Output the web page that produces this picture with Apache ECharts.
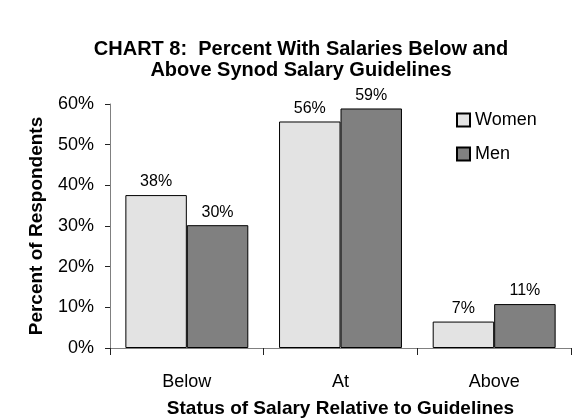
<!DOCTYPE html>
<html>
<head>
<meta charset="utf-8">
<script src="https://cdn.jsdelivr.net/npm/echarts@6/dist/echarts.min.js"></script>
<style>
  html, body { margin: 0; padding: 0; background: #fff; }
  #chart { width: 579px; height: 419px; }
</style>
</head>
<body>
<div id="chart"></div>
<script>
// values (percent)
var categories = ['Below', 'At', 'Above'];
var women = [37.6, 55.7, 6.5];
var men = [30.2, 58.9, 10.8];
var seriesNames = ['Women', 'Men'];

var font = 'Arial, "Liberation Sans", Helvetica, sans-serif';

var mychart = echarts.init(document.getElementById('chart'));

function barLabel() {
  return {
    show: true,
    position: 'top',
    distance: 5,
    color: '#000',
    fontFamily: font,
    fontSize: 16,
    formatter: function (p) { return Math.round(p.value) + '%'; }
  };
}

var options = {
  animation: false,
  backgroundColor: '#fff',
  title: {
    text: 'CHART 8:  Percent With Salaries Below and\nAbove Synod Salary Guidelines',
    left: 296,
    top: 34,
    textAlign: 'center',
    textStyle: {
      fontFamily: font,
      fontSize: 20,
      fontWeight: 'bold',
      lineHeight: 21,
      color: '#000'
    }
  },
  legend: {
    orient: 'vertical',
    left: 451,
    top: 106,
    itemWidth: 13,
    itemHeight: 13,
    itemGap: 16,
    icon: 'rect',
    textStyle: { fontFamily: font, fontSize: 18, color: '#000' },
    data: seriesNames
  },
  grid: { left: 110, right: 8, top: 104, bottom: 71, outerBoundsMode: 'none' },
  xAxis: {
    type: 'category',
    data: categories,
    axisLine: { lineStyle: { color: '#808080', width: 1 } },
    axisTick: { show: true, length: 7, lineStyle: { color: '#222' } },
    axisLabel: { fontFamily: font, fontSize: 18, color: '#000', margin: 25 },
    name: 'Status of Salary Relative to Guidelines',
    nameLocation: 'middle',
    nameGap: 51,
    nameTextStyle: { fontFamily: font, fontSize: 19, fontWeight: 'bold', color: '#000' }
  },
  yAxis: {
    type: 'value',
    min: 0,
    max: 60,
    interval: 10,
    splitLine: { show: false },
    axisLine: { show: true, lineStyle: { color: '#808080', width: 1 } },
    axisTick: { show: true, length: 5, lineStyle: { color: '#222' } },
    axisLabel: { fontFamily: font, fontSize: 18, color: '#000', margin: 16, formatter: '{value}%' },
    name: 'Percent of Respondents',
    nameLocation: 'middle',
    nameGap: 64,
    nameTextStyle: { fontFamily: font, fontSize: 19, fontWeight: 'bold', color: '#000' }
  },
  series: [
    {
      name: seriesNames[0],
      type: 'bar',
      data: women,
      barGap: '0%',
      barCategoryGap: '20%',
      itemStyle: { color: '#e3e3e3', borderColor: '#000', borderWidth: 1 },
      label: barLabel()
    },
    {
      name: seriesNames[1],
      type: 'bar',
      data: men,
      barGap: '0%',
      barCategoryGap: '20%',
      itemStyle: { color: '#808080', borderColor: '#000', borderWidth: 1 },
      label: barLabel()
    }
  ]
};

mychart.setOption(options);
</script>
</body>
</html>
